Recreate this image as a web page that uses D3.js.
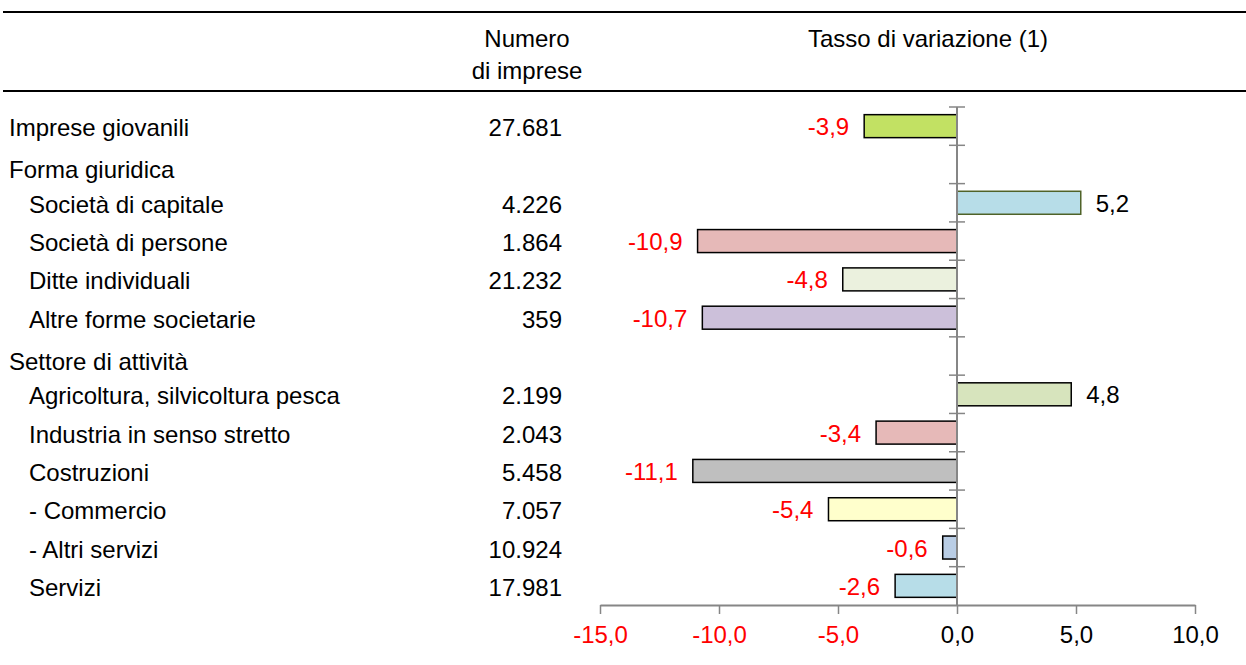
<!DOCTYPE html>
<html>
<head>
<meta charset="utf-8">
<script src="https://cdn.jsdelivr.net/npm/d3@7"></script>
<style>
  body { margin: 0; background: #fff; }
  svg text { font-family: "Liberation Sans", Arial, sans-serif; }
</style>
</head>
<body>
<svg id="chart" width="1246" height="665"></svg>
<script>
// row labels (indent 1 = sub item), firms count and change rate
const categories = ["Imprese giovanili", "Forma giuridica", "Società di capitale", "Società di persone",
  "Ditte individuali", "Altre forme societarie", "Settore di attività", "Agricoltura, silvicoltura pesca",
  "Industria in senso stretto", "Costruzioni", "- Commercio", "- Altri servizi", "Servizi"];
const indent = [0, 0, 1, 1, 1, 1, 0, 1, 1, 1, 1, 1, 1];
const firms = [27681, null, 4226, 1864, 21232, 359, null, 2199, 2043, 5458, 7057, 10924, 17981];
const rates = [-3.9, null, 5.2, -10.9, -4.8, -10.7, null, 4.8, -3.4, -11.1, -5.4, -0.6, -2.6];
const barColors = ["#c2e163", null, "#b7dde8", "#e6b9b8", "#ebf1de", "#ccc0da", null, "#d7e4bd",
  "#e6b9b8", "#bfbfbf", "#ffffcc", "#b9cde5", "#b7dde8"];
const barStrokes = ["#000", null, "#4f6228", "#000", "#000", "#000", null, "#000",
  "#000", "#000", "#000", "#000", "#000"];
const xTicks = [-15, -10, -5, 0, 5, 10];

const svg = d3.select('#chart');
const fontSize = 24;
const it = d3.formatLocale({decimal: ",", thousands: ".", grouping: [3], currency: ["€", ""], minus: "-"});
const fmtRate = it.format(".1f");
const fmtFirms = it.format(",d");

const rows = categories.map(function(c, i) {
  return {name: c, indent: indent[i], firms: firms[i], rate: rates[i], fill: barColors[i], stroke: barStrokes[i]};
});

const x = d3.scaleLinear().domain([-15, 10]).range([600, 1195]);
const y = d3.scaleBand().domain(categories).range([107, 605]).paddingInner(0.4).paddingOuter(0.2);

// header rules
svg.append("line").attr("x1", 3).attr("x2", 1246).attr("y1", 12).attr("y2", 12)
  .attr("stroke", "#000").attr("stroke-width", 2);
svg.append("line").attr("x1", 3).attr("x2", 1246).attr("y1", 91).attr("y2", 91)
  .attr("stroke", "#000").attr("stroke-width", 2);

svg.append("text").attr("x", 527).attr("y", 47).attr("text-anchor", "middle")
  .attr("font-size", fontSize).text("Numero");
svg.append("text").attr("x", 527).attr("y", 79).attr("text-anchor", "middle")
  .attr("font-size", fontSize).text("di imprese");
svg.append("text").attr("x", 928).attr("y", 47).attr("text-anchor", "middle")
  .attr("font-size", fontSize).text("Tasso di variazione (1)");

// left table
const rowCenter = function(d) { return y(d.name) + y.bandwidth() / 2; };

svg.append("g").selectAll("text").data(rows).join("text")
  .attr("x", function(d) { return d.indent ? 29 : 9; })
  .attr("y", function(d) { return rowCenter(d) + (d.indent || d.firms !== null ? 10 : 13.5); })
  .attr("font-size", fontSize)
  .text(function(d) { return d.name; });

svg.append("g").selectAll("text").data(rows.filter(function(d) { return d.firms !== null; })).join("text")
  .attr("x", 562)
  .attr("y", function(d) { return rowCenter(d) + 10; })
  .attr("text-anchor", "end")
  .attr("font-size", fontSize)
  .text(function(d) { return fmtFirms(d.firms); });

// bars
const barRows = rows.filter(function(d) { return d.rate !== null; });
svg.append("g").selectAll("rect").data(barRows).join("rect")
  .attr("x", function(d) { return x(Math.min(0, d.rate)); })
  .attr("y", function(d) { return y(d.name); })
  .attr("width", function(d) { return Math.abs(x(d.rate) - x(0)); })
  .attr("height", y.bandwidth())
  .attr("fill", function(d) { return d.fill; })
  .attr("stroke", function(d) { return d.stroke; })
  .attr("stroke-width", 1.5);

svg.append("g").selectAll("text").data(barRows).join("text")
  .attr("x", function(d) { return d.rate < 0 ? x(d.rate) - 15 : x(d.rate) + 15; })
  .attr("y", function(d) { return rowCenter(d) + 9; })
  .attr("text-anchor", function(d) { return d.rate < 0 ? "end" : "start"; })
  .attr("fill", function(d) { return d.rate < 0 ? "#ff0000" : "#000"; })
  .attr("font-size", fontSize)
  .text(function(d) { return fmtRate(d.rate); });

// zero axis with band boundary ticks
const axisColor = "#868686";
const zeroX = x(0);
const bounds = categories.map(function(c) { return y(c) - y.step() * 0.2; });
svg.append("line").attr("x1", zeroX).attr("x2", zeroX).attr("y1", y.range()[0]).attr("y2", y.range()[1])
  .attr("stroke", axisColor).attr("stroke-width", 2);
svg.append("g").selectAll("line").data(bounds).join("line")
  .attr("x1", zeroX - 8).attr("x2", zeroX + 8)
  .attr("y1", function(d) { return d; }).attr("y2", function(d) { return d; })
  .attr("stroke", axisColor).attr("stroke-width", 1.5);

// x axis
const xAxis = svg.append("g")
  .attr("transform", "translate(0," + y.range()[1] + ")")
  .call(d3.axisBottom(x).tickValues(xTicks).tickSize(9).tickSizeOuter(0).tickFormat(fmtRate));
xAxis.select(".domain").attr("stroke", axisColor).attr("stroke-width", 2);
xAxis.selectAll(".tick line").attr("stroke", axisColor).attr("stroke-width", 1.5);
xAxis.selectAll(".tick text")
  .attr("y", 38).attr("dy", null)
  .attr("font-size", fontSize)
  .attr("font-family", "Liberation Sans, Arial, sans-serif")
  .attr("fill", function(d) { return d < 0 ? "#ff0000" : "#000"; });
</script>
</body>
</html>
